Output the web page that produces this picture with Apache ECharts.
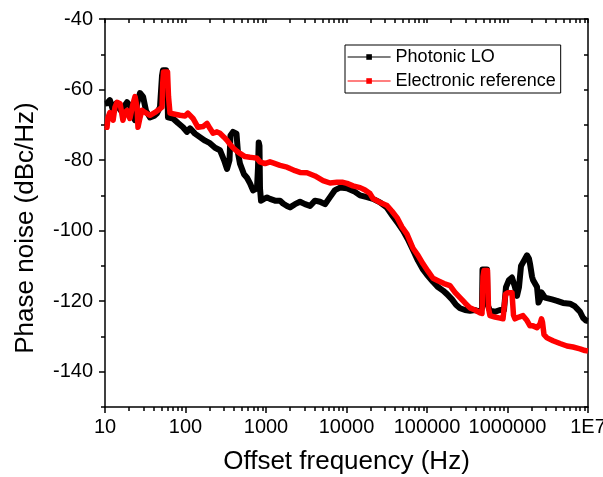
<!DOCTYPE html>
<html>
<head>
<meta charset="utf-8">
<script src="https://cdn.jsdelivr.net/npm/echarts@6/dist/echarts.min.js"></script>
<style>html,body{margin:0;padding:0;background:#fff;overflow:hidden}#c{width:603px;height:477px}</style>
</head>
<body>
<div id="c"></div>
<script>
// Offset frequency (Hz) and phase noise (dBc/Hz)
var photonicFreq = [10,10.6,11.5,12.6,13.7,14.5,15.8,16.7,18.8,20.4,21.6,23.6,25.0,27.2,29.7,32.3,36.2,40.6,44.3,48.2,51.1,52.5,57.3,59.8,60.6,69.9,80.7,93.1,104,114,131,151,175,201,233,268,301,328,352,362,389,430,449,475,533,581,633,690,773,796,812,830,842,867,945,1029,1121,1294,1493,1626,1824,1987,2293,2645,3051,3521,4062,4687,5408,6237,7196,8306,10140,12750,14720,17970,21340,26070,31850,37820,42400,50340,58080,67010,77310,89200,100000,118700,137000,158000,177200,204500,229200,257000,296500,342100,394800,455400,482300,489200,556300,564400,606100,699300,806900,904700,958000,1044000,1137000,1239000,1312000,1390000,1472000,1603000,1747000,1850000,1904000,2016000,2074000,2196000,2326000,2428000,2533000,2645000,2761000,2924000,3096000,3572000,4121000,4892000,5975000,6895000,7302000,7955000,8669000,9445000,10000000];
var photonicPN = [-64,-63.9,-63,-65.9,-64,-63.6,-66,-65.9,-63.6,-64.5,-65,-68.7,-64,-61,-62,-66,-67.9,-67.5,-66.7,-65,-56,-54.5,-54.5,-62,-67.9,-68.2,-69.5,-70.7,-72,-71,-72.5,-73.5,-74.5,-75.2,-76.5,-77.2,-80,-82.5,-80,-73,-72,-72.5,-78,-81,-84,-85,-86.6,-88.6,-88,-82,-75,-76,-88,-91.5,-91,-90.6,-91,-91.5,-91.5,-92.3,-93,-93.4,-92.5,-91.8,-92.5,-93,-91.5,-91.8,-92.5,-90.5,-88.5,-87.8,-88,-89,-90,-90.5,-91,-92,-93.5,-96,-97.5,-100,-102.5,-105.5,-108.5,-111,-112.5,-114.5,-116,-117,-118,-119.5,-121,-122,-122.5,-122.7,-122.5,-123,-122,-111,-111,-121,-122.7,-123,-122.5,-122.5,-116,-114,-113.3,-116,-118.5,-116,-110,-108.5,-107,-108,-109.4,-113,-114,-114.5,-116,-120.4,-119.5,-117.5,-117,-119,-119.3,-119.5,-119.9,-120.5,-120.7,-121.5,-122.1,-123,-124.7,-125.5,-125.6];

var electronicFreq = [10,10.6,10.9,11.5,12.6,13.3,14.1,15.4,16.7,17.7,18.8,20.4,22.3,23.6,25.0,25.7,27.2,28.8,31.4,36.2,41.8,45.5,51.1,52.2,53.3,59.8,61.5,64.2,74.1,85.5,98.6,107,124,143,151,165,185,201,220,246,268,301,328,357,389,436,475,548,633,690,773,842,972,1121,1222,1493,1824,1987,2293,2645,3231,4062,5107,6237,7621,9048,10140,12040,14720,16980,19590,21340,26070,31850,36750,42400,48920,56440,67010,77310,89200,102900,118700,137000,162600,193100,222700,257000,296500,342100,394800,455400,482300,496300,510800,564400,580700,606100,699300,806900,879400,917900,944600,1014000,1137000,1187000,1239000,1390000,1558000,1747000,1904000,2074000,2326000,2533000,2645000,2722000,2841000,3096000,3675000,4490000,5483000,6512000,7955000,9178000,10000000];
var electronicPN = [-70.5,-70.7,-67.9,-66.5,-68.7,-65,-63.6,-64,-68.7,-66.5,-65.9,-68.2,-64,-62,-65,-70.7,-68,-65.9,-66.5,-67.3,-66.5,-65.9,-65,-58,-55,-55,-62,-66.7,-67,-67.3,-67.5,-66.7,-68.2,-70.7,-70.7,-70.5,-69.6,-71,-72.4,-72,-72.4,-73.5,-74.4,-75.5,-76.5,-77.5,-78.1,-79,-79.2,-79.3,-79.5,-80.5,-81,-80.5,-80.8,-81.5,-82,-82.4,-83,-83.5,-83.6,-84.5,-85.8,-86.5,-86.3,-86.3,-86.6,-87.3,-87.8,-88.5,-89.5,-90.9,-92,-92.9,-94.5,-96.3,-99,-101,-105,-107,-109.4,-111.5,-113.5,-114.2,-115,-115.6,-117.5,-119,-120.5,-121.9,-122.5,-123.3,-123.5,-113,-111.3,-111.3,-122,-124.1,-124.5,-124.8,-125,-124.5,-118,-117.6,-117.6,-124,-125,-124.5,-124.1,-125.5,-127,-127,-127.5,-126.5,-125,-126,-129.5,-130.4,-131.2,-132,-132.7,-133,-133.5,-134,-134.1];

var seriesNames = ['Photonic LO', 'Electronic reference'];
var xMajorTicks = [10,100,1000,10000,100000,1000000,10000000];
var xMinorTicks = [20,30,40,50,60,70,80,90,200,300,400,500,600,700,800,900,2000,3000,4000,5000,6000,7000,8000,9000,20000,30000,40000,50000,60000,70000,80000,90000,200000,300000,400000,500000,600000,700000,800000,900000,2000000,3000000,4000000,5000000,6000000,7000000,8000000,9000000];
var yMajorTicks = [-140,-120,-100,-80,-60,-40];
var yMinorTicks = [-150,-130,-110,-90,-70,-50];

function zip(a, b) { var r = []; for (var i = 0; i < a.length; i++) r.push([a[i], b[i]]); return r; }

var FONT = 'Liberation Sans, Arial, sans-serif';
var axisCommonLog = { type: 'log', logBase: 10, min: 10, max: 10000000, gridIndex: 0, splitLine: { show: false } };
var lineStyleAxis = { color: '#000', width: 1.5 };

var chart = echarts.init(document.getElementById('c'), null, { renderer: 'canvas', width: 603, height: 477 });
chart.setOption({
  animation: false,
  backgroundColor: '#fff',
  grid: { left: 105, right: 15, top: 19, bottom: 70, containLabel: false, outerBoundsMode: 'none' },
  legend: {
    orient: 'vertical', left: 345, top: 45,
    borderColor: '#000', borderWidth: 1, padding: [3, 5, 3, 2],
    itemGap: 6, itemWidth: 43, itemHeight: 7, itemTextGap: 5,
    textStyle: { fontSize: 18, color: '#000', fontFamily: FONT },
    lineStyle: { width: 1.2 },
    data: [seriesNames[0], seriesNames[1]]
  },
  xAxis: [
    Object.assign({}, axisCommonLog, {
      position: 'bottom',
      name: 'Offset frequency (Hz)', nameLocation: 'middle', nameGap: 42,
      nameTextStyle: { fontSize: 26, color: '#000', fontFamily: FONT },
      axisLine: { show: true, onZero: false, lineStyle: lineStyleAxis },
      axisTick: { show: true, inside: false, length: 6, lineStyle: lineStyleAxis, customValues: xMajorTicks },
      axisLabel: { show: true, margin: 10, color: '#000', fontSize: 20, fontFamily: FONT, customValues: xMajorTicks,
        formatter: function (v) { return v >= 10000000 ? '1E7' : String(Math.round(v)); } },
      minorTick: { show: false }
    }),
    Object.assign({}, axisCommonLog, {
      position: 'bottom',
      axisLine: { show: false, onZero: false },
      axisTick: { show: true, inside: false, length: 4, lineStyle: lineStyleAxis, customValues: xMinorTicks },
      axisLabel: { show: false }
    }),
    Object.assign({}, axisCommonLog, {
      position: 'top',
      axisLine: { show: true, onZero: false, lineStyle: lineStyleAxis },
      axisTick: { show: true, inside: true, length: 4, lineStyle: lineStyleAxis, customValues: xMinorTicks.concat(xMajorTicks) },
      axisLabel: { show: false }
    })
  ],
  yAxis: [
    {
      type: 'value', min: -150, max: -40, interval: 10, position: 'left', gridIndex: 0,
      name: 'Phase noise (dBc/Hz)', nameLocation: 'middle', nameGap: 66,
      nameTextStyle: { fontSize: 26, color: '#000', fontFamily: FONT, padding: [0, 30, 0, 0] },
      axisLine: { show: true, onZero: false, lineStyle: lineStyleAxis },
      axisTick: { show: true, inside: false, length: 6, lineStyle: lineStyleAxis, customValues: yMajorTicks },
      axisLabel: { show: true, margin: 12, color: '#000', fontSize: 20, fontFamily: FONT, customValues: yMajorTicks },
      splitLine: { show: false }
    },
    {
      type: 'value', min: -150, max: -40, interval: 10, position: 'left', gridIndex: 0,
      axisLine: { show: false, onZero: false },
      axisTick: { show: true, inside: false, length: 4, lineStyle: lineStyleAxis, customValues: yMinorTicks },
      axisLabel: { show: false }, splitLine: { show: false }
    },
    {
      type: 'value', min: -150, max: -40, interval: 10, position: 'right', gridIndex: 0,
      axisLine: { show: true, onZero: false, lineStyle: lineStyleAxis },
      axisTick: { show: true, inside: true, length: 4, lineStyle: lineStyleAxis, customValues: yMinorTicks.concat(yMajorTicks) },
      axisLabel: { show: false }, splitLine: { show: false }
    }
  ],
  series: [
    {
      name: seriesNames[0], type: 'line', xAxisIndex: 0, yAxisIndex: 0,
      data: zip(photonicFreq, photonicPN),
      symbol: 'rect', symbolSize: 6, showSymbol: false,
      itemStyle: { color: '#000' },
      lineStyle: { color: '#000', width: 6, join: 'round' },
      z: 2
    },
    {
      name: seriesNames[1], type: 'line', xAxisIndex: 0, yAxisIndex: 0,
      data: zip(electronicFreq, electronicPN),
      symbol: 'rect', symbolSize: 6, showSymbol: false,
      itemStyle: { color: '#ff0000' },
      lineStyle: { color: '#ff0000', width: 5.5, join: 'round' },
      z: 3
    }
  ]
});
</script>
</body>
</html>
